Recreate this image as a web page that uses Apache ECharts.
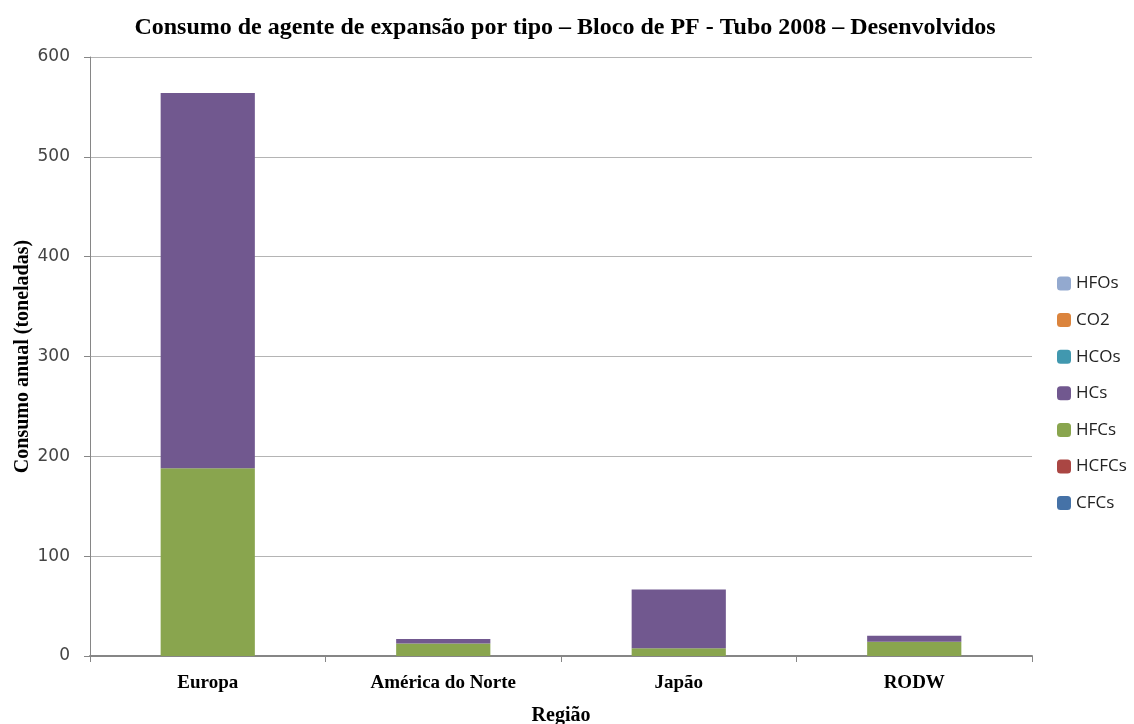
<!DOCTYPE html>
<html>
<head>
<meta charset="utf-8">
<script src="https://cdn.jsdelivr.net/npm/echarts@6/dist/echarts.min.js"></script>
<style>html,body{margin:0;padding:0;background:#fff;}#c{width:1134px;height:724px;}</style>
</head>
<body>
<div id="c"></div>
<script>
const categories = ['Europa', 'América do Norte', 'Japão', 'RODW'];
const CFCs  = [0, 0, 0, 0];
const HCFCs = [0, 0, 0, 0];
const HFCs  = [188, 12.5, 7.7, 14.3];
const HCs   = [376, 4.5, 59, 6];
const HCOs  = [0, 0, 0, 0];
const CO2   = [0, 0, 0, 0];
const HFOs  = [0, 0, 0, 0];
const legendOrder = ['HFOs', 'CO2', 'HCOs', 'HCs', 'HFCs', 'HCFCs', 'CFCs'];
const yTicks = [0, 100, 200, 300, 400, 500, 600];

const seriesDefs = [
  ['CFCs', CFCs, '#4572A7'],
  ['HCFCs', HCFCs, '#AA4643'],
  ['HFCs', HFCs, '#89A54E'],
  ['HCs', HCs, '#71588F'],
  ['HCOs', HCOs, '#4198AF'],
  ['CO2', CO2, '#DB843D'],
  ['HFOs', HFOs, '#93A9CF']
];

const chart = echarts.init(document.getElementById('c'), null, {renderer: 'canvas'});
chart.setOption({
  animation: false,
  backgroundColor: '#fff',
  title: {
    text: 'Consumo de agente de expansão por tipo – Bloco de PF - Tubo 2008 – Desenvolvidos',
    left: 560, top: 11, textAlign: 'center',
    textStyle: {fontFamily: 'Liberation Serif', fontWeight: 'bold', fontSize: 24, color: '#000'}
  },
  legend: {
    orient: 'vertical', left: 1052, top: 270,
    itemWidth: 14, itemHeight: 14, itemGap: 19.6,
    data: legendOrder,
    textStyle: {fontFamily: 'Open Sans', fontSize: 17, color: '#222'},
    selectedMode: false
  },
  grid: {left: 90, right: 102, top: 57, bottom: 68, containLabel: false, outerBoundsMode: 'none'},
  xAxis: {
    type: 'category', data: categories,
    name: 'Região', nameLocation: 'middle', nameGap: 50, nameMoveOverlap: false,
    nameTextStyle: {fontFamily: 'Liberation Serif', fontWeight: 'bold', fontSize: 20, color: '#000'},
    axisLine: {lineStyle: {color: '#868686', width: 2}},
    axisTick: {show: true, alignWithLabel: false, length: 6, lineStyle: {color: '#868686'}},
    axisLabel: {fontFamily: 'Liberation Serif', fontWeight: 'bold', fontSize: 19, color: '#000', margin: 18}
  },
  yAxis: {
    type: 'value', min: 0, max: 600, interval: 100,
    name: 'Consumo anual (toneladas)', nameLocation: 'middle', nameGap: 50, nameRotate: 90, nameMoveOverlap: false,
    nameTextStyle: {fontFamily: 'Liberation Serif', fontWeight: 'bold', fontSize: 20, color: '#000', backgroundColor: '#fff', padding: [7, 2]},
    axisLine: {show: true, lineStyle: {color: '#868686', width: 1}},
    axisTick: {show: true, length: 6, lineStyle: {color: '#868686'}},
    axisLabel: {fontFamily: 'DejaVu Sans', fontSize: 17, color: '#444', margin: 20,
      formatter: v => yTicks.includes(v) ? String(v) : ''},
    splitLine: {lineStyle: {color: '#b4b4b4', width: 1}}
  },
  series: seriesDefs.map(([n, d, c]) => ({
    name: n, type: 'bar', stack: 'total', data: d, barWidth: '40%',
    itemStyle: {color: c}
  }))
});
</script>
</body>
</html>
